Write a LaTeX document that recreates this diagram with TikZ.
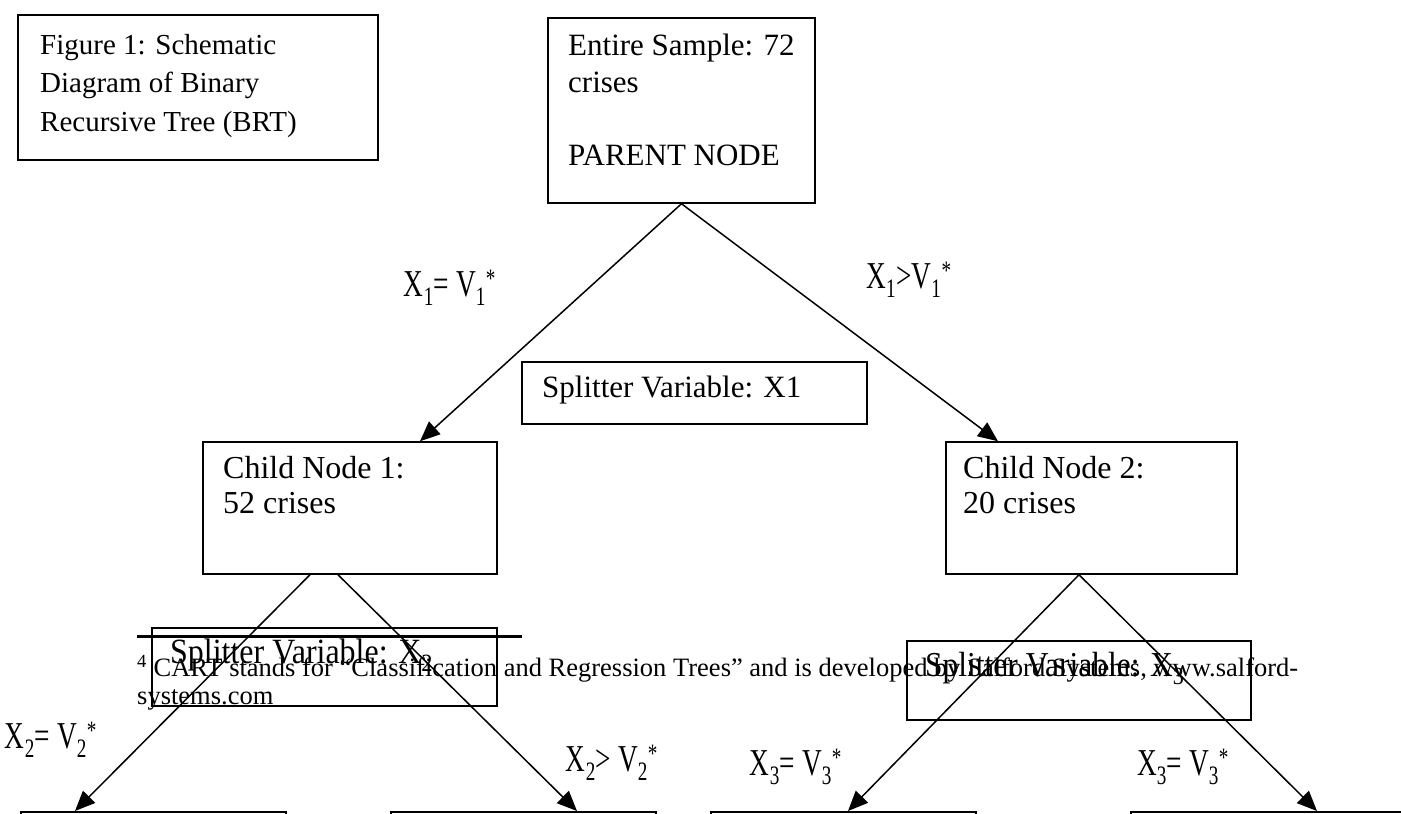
\documentclass[tikz,border=0pt]{standalone}
\usepackage{fontspec}
\setmainfont{Liberation Serif}
\newfontfamily\narrowserif{Liberation Serif}[FakeStretch=0.9]
\newfontfamily\condserif{Liberation Serif}[FakeStretch=0.72]
\usetikzlibrary{arrows.meta}

\begin{document}
\begin{tikzpicture}[
    x=1pt, y=-1pt,
    box/.style={rectangle, draw, line width=1.5pt, inner sep=0pt},
    boxtext/.style={anchor=north west, inner sep=0pt, align=left},
    arrow/.style={-{Triangle[length=20pt, width=17pt]}, line width=1.5pt},
    cut/.style={inner sep=0pt, font=\condserif\fontsize{38}{40}\selectfont},
    leaf/.style={rectangle, draw, line width=1.5pt, minimum height=60pt, anchor=north west, inner sep=0pt}
    ]
    \useasboundingbox (0,0) rectangle (1401,814);

    % Nodes
    \node[box, minimum width=360pt, minimum height=145pt] (title) at (198,87.5) {};
    \node[boxtext, font=\fontsize{29}{38.5}\selectfont] (titletext) at (40,34)
        {Figure 1: Schematic\\Diagram of Binary\\Recursive Tree (BRT)};

    \node[box, minimum width=267pt, minimum height=185pt] (parent) at (681.5,110.5) {};
    \node[boxtext, font=\fontsize{31}{36.5}\selectfont] (parenttext) at (568,34)
        {Entire Sample: 72\\crises\\[36.5pt]PARENT NODE};

    \node[box, minimum width=345pt, minimum height=62pt] (split1) at (694.5,393) {};
    \node[boxtext, font=\fontsize{31}{36}\selectfont] (split1text) at (542,376)
        {Splitter Variable: X1};

    \node[box, minimum width=294pt, minimum height=132pt] (child1) at (350,508) {};
    \node[boxtext, font=\fontsize{32}{35}\selectfont] (child1text) at (223,456)
        {Child Node 1:\\52 crises};

    \node[box, minimum width=291pt, minimum height=132pt] (child2) at (1091.5,508) {};
    \node[boxtext, font=\fontsize{32}{35}\selectfont] (child2text) at (963,456)
        {Child Node 2:\\20 crises};

    \node[box, minimum width=345pt, minimum height=78pt] (split2) at (324.5,667) {};
    \node[boxtext, font=\narrowserif\fontsize{35.5}{36}\selectfont] (split2text) at (170,639)
        {Splitter Variable: X\textsubscript{2}};

    \node[box, minimum width=344pt, minimum height=79pt] (split3) at (1079,680.5) {};
    \node[boxtext, font=\narrowserif\fontsize{35}{36}\selectfont] (split3text) at (925,652)
        {Splitter Variable: X\textsubscript{3}};

    \node[leaf, minimum width=265pt] (leafA) at (20,811) {};
    \node[leaf, minimum width=265pt] (leafB) at (390,811) {};
    \node[leaf, minimum width=265pt] (leafC) at (710,811) {};
    \node[leaf, minimum width=290pt] (leafD) at (1130,811) {};

    % footnote
    \draw[line width=3pt] (137,636) -- (522,636);
    \node[boxtext, font=\fontsize{26.5}{28}\selectfont] (fnote) at (137,655)
        {\textsuperscript{4} CART stands for “Classification and Regression Trees” and is developed by Salford Systems, www.salford-\\systems.com};

    % split labels
    \node[cut] (s1eq) at (450,288) {X\textsubscript{1}= V\textsubscript{1}\textsuperscript{*}};
    \node[cut] (s1gt) at (909,280) {X\textsubscript{1}>V\textsubscript{1}\textsuperscript{*}};
    \node[cut] (s2eq) at (51,740) {X\textsubscript{2}= V\textsubscript{2}\textsuperscript{*}};
    \node[cut] (s2gt) at (612,763) {X\textsubscript{2}> V\textsubscript{2}\textsuperscript{*}};
    \node[cut] (s3eq) at (796,767) {X\textsubscript{3}= V\textsubscript{3}\textsuperscript{*}};
    \node[cut] (s3gt) at (1183,767) {X\textsubscript{3}= V\textsubscript{3}\textsuperscript{*}};

    \draw[arrow] (parent.south) -- ([xshift=70pt]child1.north);

    \draw[arrow] (parent.south) -- ([xshift=-93.5pt]child2.north);

    \draw[arrow] ([xshift=-40pt]child1.south) -- ([xshift=55pt]leafA.north west);

    \draw[arrow] ([xshift=-12pt]child1.south) -- ([xshift=187pt]leafB.north west);

    \draw[arrow] ([xshift=-12.5pt]child2.south) -- ([xshift=138pt]leafC.north west);

    \draw[arrow] ([xshift=-12.5pt]child2.south) -- ([xshift=187pt]leafD.north west);

\end{tikzpicture}
\end{document}
